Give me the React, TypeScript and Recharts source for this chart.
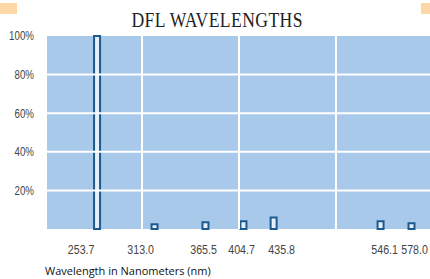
import React from 'react';
import { BarChart, Bar, XAxis, YAxis, CartesianGrid, ReferenceLine } from 'recharts';

const wavelengths = [253.7, 313.0, 365.5, 404.7, 435.8, 546.1, 578.0];
const intensity = [100, 2.5, 3.5, 4, 6, 4, 3];
const yTicks = [20, 40, 60, 80, 100];
const dividers = [300, 400, 500];

const data = wavelengths.map((w, i) => ({ nm: w, value: intensity[i] }));

const BG = '#a9c9eb';
const FONT = '"Liberation Sans", Arial, sans-serif';
// the printed labels sit a little off their bars
const labelShift = [-16, -14, -2, -2, 8, 4, 3];

const XTick = (props: any) => {
  const { x, y, payload, index } = props;
  return (
    <g transform={`translate(${x + (labelShift[index] || 0)},${y})`}>
      <text transform="scale(0.82,1)" textAnchor="middle" dy="0.71em" fill="#444" fontSize={13} fontFamily={FONT}>
        {Number(payload.value).toFixed(1)}
      </text>
    </g>
  );
};

const YTick = (props: any) => {
  const { x, y, payload } = props;
  return (
    <g transform={`translate(${x},${y})`}>
      <text transform="scale(0.78,1)" textAnchor="end" dy="0.355em" fill="#444" fontSize={12.5} fontFamily={FONT}>
        {payload.value + '%'}
      </text>
    </g>
  );
};

const App: React.FC = () => {
  return (
    <div style={{ position: 'absolute', left: 0, top: 0, width: 430, height: 279, background: '#fff' }}>
      <div style={{ position: 'absolute', left: 0, top: 3, width: 17, height: 11, background: '#fdd8a6' }} />
      <div style={{ position: 'absolute', left: 421, top: 3, width: 9, height: 11, background: '#fdd8a6' }} />
      <div
        style={{
          position: 'absolute',
          left: 0,
          width: 430,
          top: 6,
          textAlign: 'center',
          fontFamily: '"Liberation Serif", serif',
          fontSize: 22,
          color: '#222',
          lineHeight: '28px',
        }}
      >
        <span style={{ display: 'inline-block', transform: 'scaleX(0.8)', marginLeft: 4, letterSpacing: 0.5 }}>
          DFL WAVELENGTHS
        </span>
      </div>
      <BarChart width={430} height={279} data={data} margin={{ top: 36, right: 0, left: 0, bottom: 0 }}>
        <CartesianGrid horizontal={false} vertical={false} fill={BG} />
        {yTicks.slice(0, 4).map((t) => (
          <ReferenceLine key={'h' + t} y={t} stroke="#fff" strokeWidth={2} />
        ))}
        {dividers.map((d) => (
          <ReferenceLine key={'v' + d} x={d} stroke="#fff" strokeWidth={2} />
        ))}
        <XAxis
          dataKey="nm"
          type="number"
          domain={[202, 597]}
          ticks={wavelengths}
          interval={0}
          axisLine={false}
          tickLine={false}
          tickSize={0}
          tickMargin={16}
          height={50}
          tick={<XTick />}
        />
        <YAxis
          domain={[0, 100]}
          ticks={yTicks}
          axisLine={false}
          tickLine={false}
          tickSize={0}
          tickMargin={13}
          width={47}
          tick={<YTick />}
        />
        <Bar dataKey="value" barSize={6} fill="#e6f0fa" stroke="#1d5b8e" strokeWidth={2} isAnimationActive={false} />
      </BarChart>
      <div
        style={{
          position: 'absolute',
          left: 45,
          top: 263,
          fontFamily: '"Open Sans", sans-serif',
          fontSize: 11,
          color: '#111',
          whiteSpace: 'nowrap',
        }}
      >
        Wavelength in Nanometers (nm)
      </div>
    </div>
  );
};

export default App;
